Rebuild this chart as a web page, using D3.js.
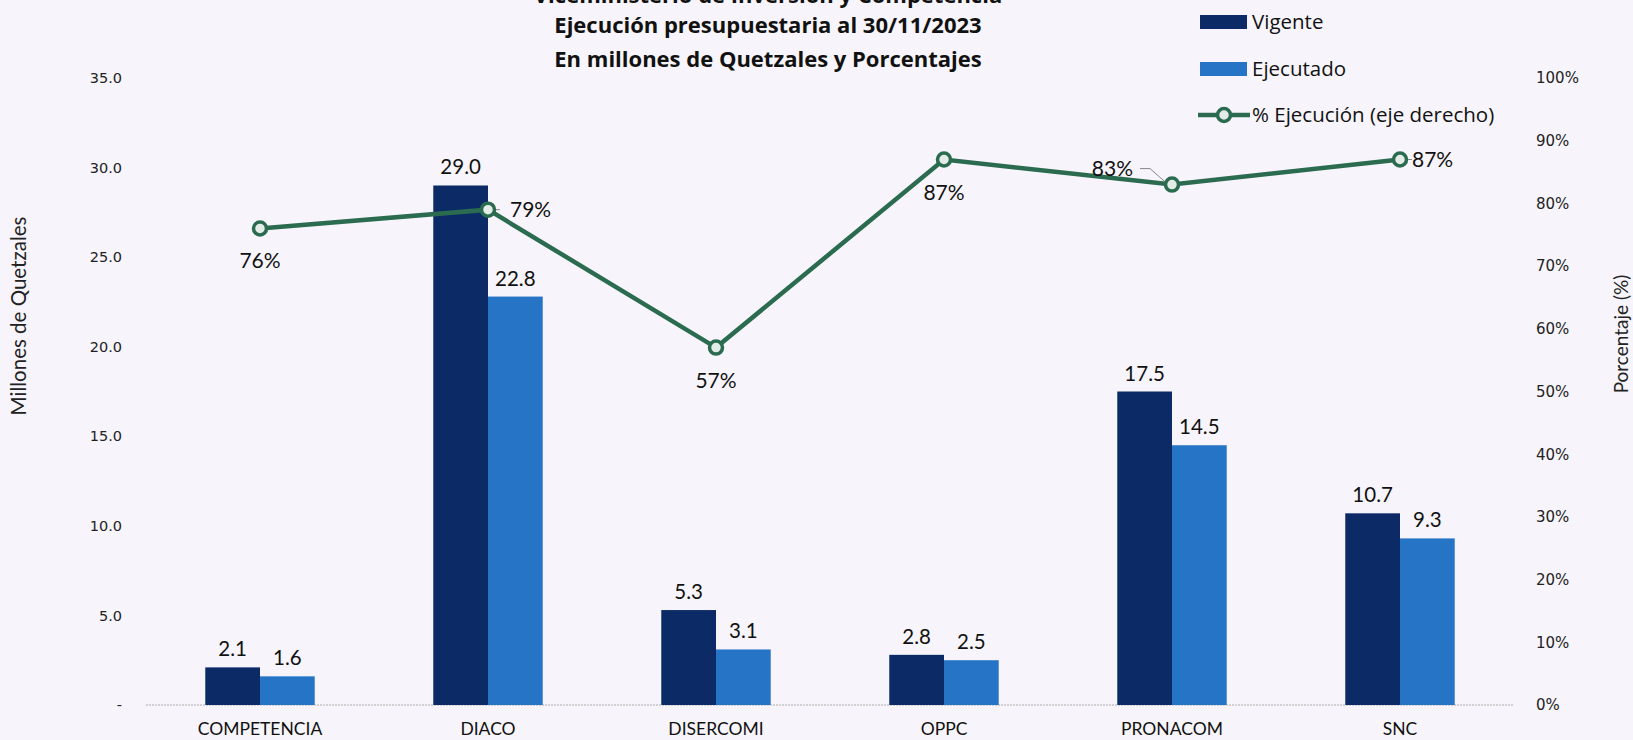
<!DOCTYPE html>
<html>
<head>
<meta charset="utf-8">
<script src="https://cdn.jsdelivr.net/npm/d3@7"></script>
<style>
  html, body { margin: 0; padding: 0; background: #f7f5fb; }
  svg { display: block; }
</style>
</head>
<body>
<svg id="chart" width="1633" height="740"></svg>
<script>
// ---------- data ----------
const categories = ["COMPETENCIA", "DIACO", "DISERCOMI", "OPPC", "PRONACOM", "SNC"];
const vigente    = [2.1, 29.0, 5.3, 2.8, 17.5, 10.7];
const ejecutado  = [1.6, 22.8, 3.1, 2.5, 14.5, 9.3];
const ejecucion  = [0.76, 0.79, 0.57, 0.87, 0.83, 0.87];
const leftTicks  = [0, 5, 10, 15, 20, 25, 30, 35];
const rightTicks = [0, 0.1, 0.2, 0.3, 0.4, 0.5, 0.6, 0.7, 0.8, 0.9, 1.0];
const titleLines = ["Viceministerio de Inversión y Competencia",
                    "Ejecución presupuestaria al 30/11/2023",
                    "En millones de Quetzales y Porcentajes"];
const seriesNames = ["Vigente", "Ejecutado", "% Ejecución (eje derecho)"];
// label placement for percentage labels (style)
const pctLabelPos = ["below", "right", "below", "below", "left", "right"];

// ---------- styles ----------
const C_VIG = "#0c2a66", C_EJE = "#2674c6", C_LINE = "#2b6b50";
const FONT = "Lato, 'Open Sans', sans-serif";
const FONT2 = "'Open Sans', Lato, sans-serif";
const TICKFONT = "'DejaVu Sans', Verdana, sans-serif";

const svg = d3.select("#chart");
const plot = { left: 146, right: 1514, top: 78, bottom: 705 };

const x = d3.scaleBand().domain(categories).range([plot.left, plot.right])
  .paddingInner(0.52).paddingOuter(0.26);
const xs = d3.scaleBand().domain(["v", "e"]).range([0, x.bandwidth()]);
const y = d3.scaleLinear().domain([0, 35]).range([plot.bottom, plot.top]);
const y2 = d3.scaleLinear().domain([0, 1]).range([plot.bottom, plot.top]);

// title
const title = svg.append("g").attr("font-family", FONT2).attr("font-weight", 700)
  .attr("font-size", 22).attr("fill", "#111").attr("text-anchor", "middle");
const titleY = [3, 33, 67];
titleLines.forEach((t, i) => {
  title.append("text").attr("x", 768).attr("y", titleY[i]).text(t);
});

// left axis
const yAxis = d3.axisLeft(y).tickValues(leftTicks)
  .tickFormat(d => d === 0 ? "-" : d3.format(".1f")(d)).tickSize(0).tickPadding(0);
const gy = svg.append("g").attr("transform", `translate(122,0)`).call(yAxis);
gy.select(".domain").remove();
gy.selectAll("text").attr("font-family", TICKFONT).attr("font-size", 14.5).attr("fill", "#222");

// right axis
const y2Axis = d3.axisRight(y2).tickValues(rightTicks)
  .tickFormat(d3.format(".0%")).tickSize(0).tickPadding(0);
const gy2 = svg.append("g").attr("transform", `translate(1536,0)`).call(y2Axis);
gy2.select(".domain").remove();
gy2.selectAll("text").attr("font-family", TICKFONT).attr("font-size", 15).attr("fill", "#222");

// axis titles
svg.append("text").attr("transform", `translate(26,316) rotate(-90)`)
  .attr("text-anchor", "middle").attr("font-family", FONT).attr("font-size", 20.5).attr("fill", "#222")
  .text("Millones de Quetzales");
svg.append("text").attr("transform", `translate(1628,334) rotate(-90)`)
  .attr("text-anchor", "middle").attr("font-family", FONT).attr("font-size", 19).attr("fill", "#222")
  .text("Porcentaje (%)");

// baseline
svg.append("line").attr("x1", plot.left).attr("x2", plot.right)
  .attr("y1", y(0)).attr("y2", y(0))
  .attr("stroke", "#aaa").attr("stroke-width", 1).attr("stroke-dasharray", "2,1");

// bars
const groups = svg.append("g").selectAll("g").data(categories).join("g")
  .attr("transform", d => `translate(${x(d)},0)`);
groups.append("rect").attr("x", xs("v")).attr("width", xs.bandwidth())
  .attr("y", (d, i) => y(vigente[i])).attr("height", (d, i) => y(0) - y(vigente[i]))
  .attr("fill", C_VIG);
groups.append("rect").attr("x", xs("e")).attr("width", xs.bandwidth())
  .attr("y", (d, i) => y(ejecutado[i])).attr("height", (d, i) => y(0) - y(ejecutado[i]))
  .attr("fill", C_EJE);
groups.append("text").attr("x", xs("v") + xs.bandwidth() / 2)
  .attr("y", (d, i) => y(vigente[i]) - 11).attr("text-anchor", "middle")
  .attr("font-family", FONT).attr("font-size", 20.5).attr("fill", "#111")
  .text((d, i) => d3.format(".1f")(vigente[i]));
groups.append("text").attr("x", xs("e") + xs.bandwidth() / 2)
  .attr("y", (d, i) => y(ejecutado[i]) - 11).attr("text-anchor", "middle")
  .attr("font-family", FONT).attr("font-size", 20.5).attr("fill", "#111")
  .text((d, i) => d3.format(".1f")(ejecutado[i]));

// category labels
svg.append("g").selectAll("text").data(categories).join("text")
  .attr("x", d => x(d) + x.bandwidth() / 2).attr("y", 735)
  .attr("text-anchor", "middle").attr("font-family", FONT).attr("font-size", 17.5).attr("fill", "#111")
  .text(d => d);

// line
const cx = (i) => x(categories[i]) + x.bandwidth() / 2;
const line = d3.line().x((d, i) => cx(i)).y(d => y2(d));
svg.append("path").datum(ejecucion).attr("d", line)
  .attr("fill", "none").attr("stroke", C_LINE).attr("stroke-width", 4.5);

// leader lines
ejecucion.forEach((v, i) => {
  const px = cx(i), py = y2(v);
  if (pctLabelPos[i] === "left") {
    svg.append("polyline").attr("points", `${px - 32},${py - 16} ${px - 22},${py - 16} ${px - 6},${py - 2}`)
      .attr("fill", "none").attr("stroke", "#888").attr("stroke-width", 1);
  } else if (pctLabelPos[i] === "right") {
    svg.append("line").attr("x1", px).attr("x2", px + 12).attr("y1", py).attr("y2", py)
      .attr("stroke", "#888").attr("stroke-width", 1);
  }
});

svg.append("g").selectAll("circle").data(ejecucion).join("circle")
  .attr("cx", (d, i) => cx(i)).attr("cy", d => y2(d)).attr("r", 6.5)
  .attr("fill", "#e3ece6").attr("stroke", C_LINE).attr("stroke-width", 3.5);

svg.append("g").selectAll("text").data(ejecucion).join("text")
  .attr("x", (d, i) => {
    const p = pctLabelPos[i];
    if (p === "right") return cx(i) + (i === 1 ? 22 : 12);
    if (p === "left") return cx(i) - 39;
    return cx(i);
  })
  .attr("y", (d, i) => {
    const p = pctLabelPos[i];
    if (p === "below") return y2(d) + 40;
    if (p === "left") return y2(d) - 9;
    return y2(d) + 7;
  })
  .attr("text-anchor", (d, i) => pctLabelPos[i] === "right" ? "start" : pctLabelPos[i] === "left" ? "end" : "middle")
  .attr("font-family", FONT).attr("font-size", 21).attr("fill", "#111")
  .text(d => d3.format(".0%")(d));

// legend
const lg = svg.append("g").attr("font-family", FONT2).attr("font-size", 20.5).attr("fill", "#111");
const legY = [22, 69, 115];
lg.append("rect").attr("x", 1200).attr("y", legY[0] - 7).attr("width", 47).attr("height", 14).attr("fill", C_VIG);
lg.append("rect").attr("x", 1200).attr("y", legY[1] - 7).attr("width", 47).attr("height", 14).attr("fill", C_EJE);
lg.append("line").attr("x1", 1198).attr("x2", 1250).attr("y1", legY[2]).attr("y2", legY[2])
  .attr("stroke", C_LINE).attr("stroke-width", 4.5);
lg.append("circle").attr("cx", 1224).attr("cy", legY[2]).attr("r", 6.5)
  .attr("fill", "#e3ece6").attr("stroke", C_LINE).attr("stroke-width", 3.5);
seriesNames.forEach((s, i) => {
  lg.append("text").attr("x", 1252).attr("y", legY[i] + 7).text(s);
});
</script>
</body>
</html>
